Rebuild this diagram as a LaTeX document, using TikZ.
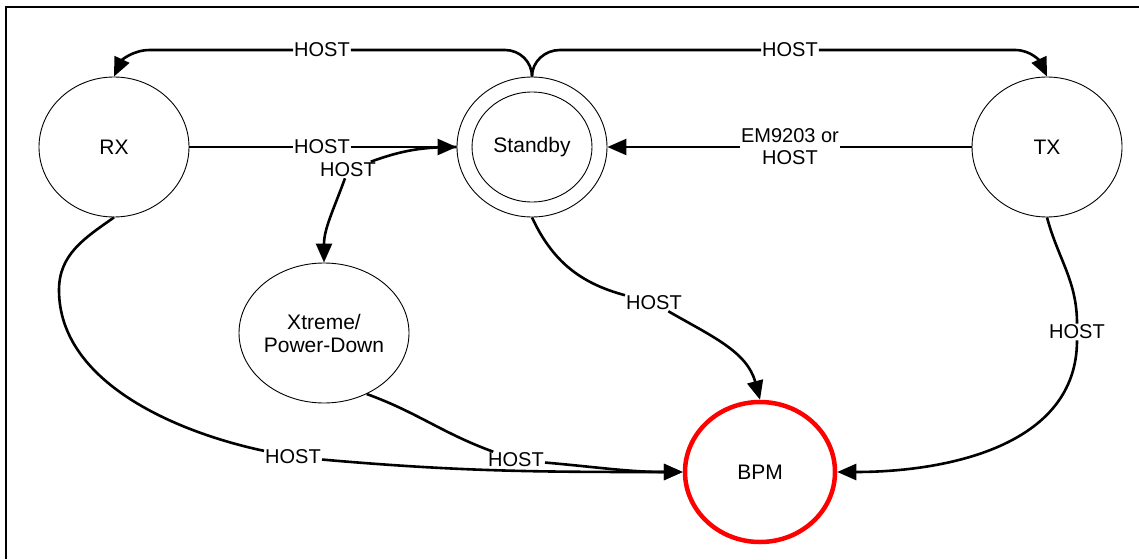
\documentclass[tikz,border=0pt]{standalone}
\usepackage{fontspec}
\setmainfont{Liberation Sans}
\usetikzlibrary{arrows.meta,shapes.geometric}
\begin{document}
\begin{tikzpicture}[x=1pt,y=1pt,>={Triangle[length=19pt,width=16pt]},
        state/.style={ellipse,draw,line width=0.9pt,minimum width=150pt,minimum height=140pt,
                inner sep=0pt,align=center,font=\fontsize{21}{23}\selectfont},
        lbl/.style={fill=white,inner sep=1pt,align=center,font=\fontsize{20}{22}\selectfont},
        wire/.style={line width=2.6pt}]
        \useasboundingbox (0,-559) rectangle (1139,0);
        % draw the frame
        \draw[line width=1.8pt] (6,-559) -- (6,-7) -- (1139,-7);

        % draw the states
        \node[state] (rx) at (114,-147) {RX};
        \node[state] (stb) at (532,-147) {};
        \node[state,minimum width=120pt,minimum height=110pt] (stbin) at (stb) {Standby};
        \node[state] (tx) at (1047,-147) {TX};
        \node[state] (xt) at (324,-333) {Xtreme/\\Power-Down};
        \node[state,draw=red,line width=4.5pt] (bpm) at (760,-472) {BPM};

        % draw the labels
        \foreach \n/\x/\y in {h1/322/50, h2/790/50, h3/322/147, h4/348/170,
                h6/654/303, h7/1077/332, h8/293/457, h9/516/460}
                \node[lbl] (\n) at (\x,-\y) {HOST};
        \node[lbl] (h5) at (790,-147) {EM9203 or\\HOST};

        % from Standby over the top
        \draw[wire,->] (stb.north) to[out=90,in=0] (505,-50) -- (h1) -- (150,-50)
                to[out=180,in=65] (rx.north);
        \draw[wire,->] (stb.north) to[out=90,in=180] (560,-50) -- (h2) -- (1015,-50)
                to[out=0,in=115] (tx.north);

        % straight into Standby
        \draw[wire,->] (rx) -- (h3) -- (stb);
        \draw[wire,->] (tx) -- (h5) -- (stb);

        % Standby down to Xtreme
        \draw[wire,->] (stb.west) to[out=180,in=20] (h4) to[out=250,in=90] (xt.north);

        % everything into BPM
        \draw[wire,->] (stb.south) to[out=-65,in=165] (h6) to[out=-30,in=105] (bpm.north);
        \draw[wire,->] (tx.south) to[out=-75,in=90] (h7) to[out=-90,in=0] (bpm.east);
        \draw[wire,->] (rx.south) to[out=215,in=90] (59,-290) to[out=-90,in=168,looseness=0.9] (h8)
                to[out=-5,in=180] (bpm.west);
        \draw[wire,->] (xt.-55) to[out=-20,in=160] (h9) to[out=-5,in=180] (bpm.west);
\end{tikzpicture}
\end{document}
